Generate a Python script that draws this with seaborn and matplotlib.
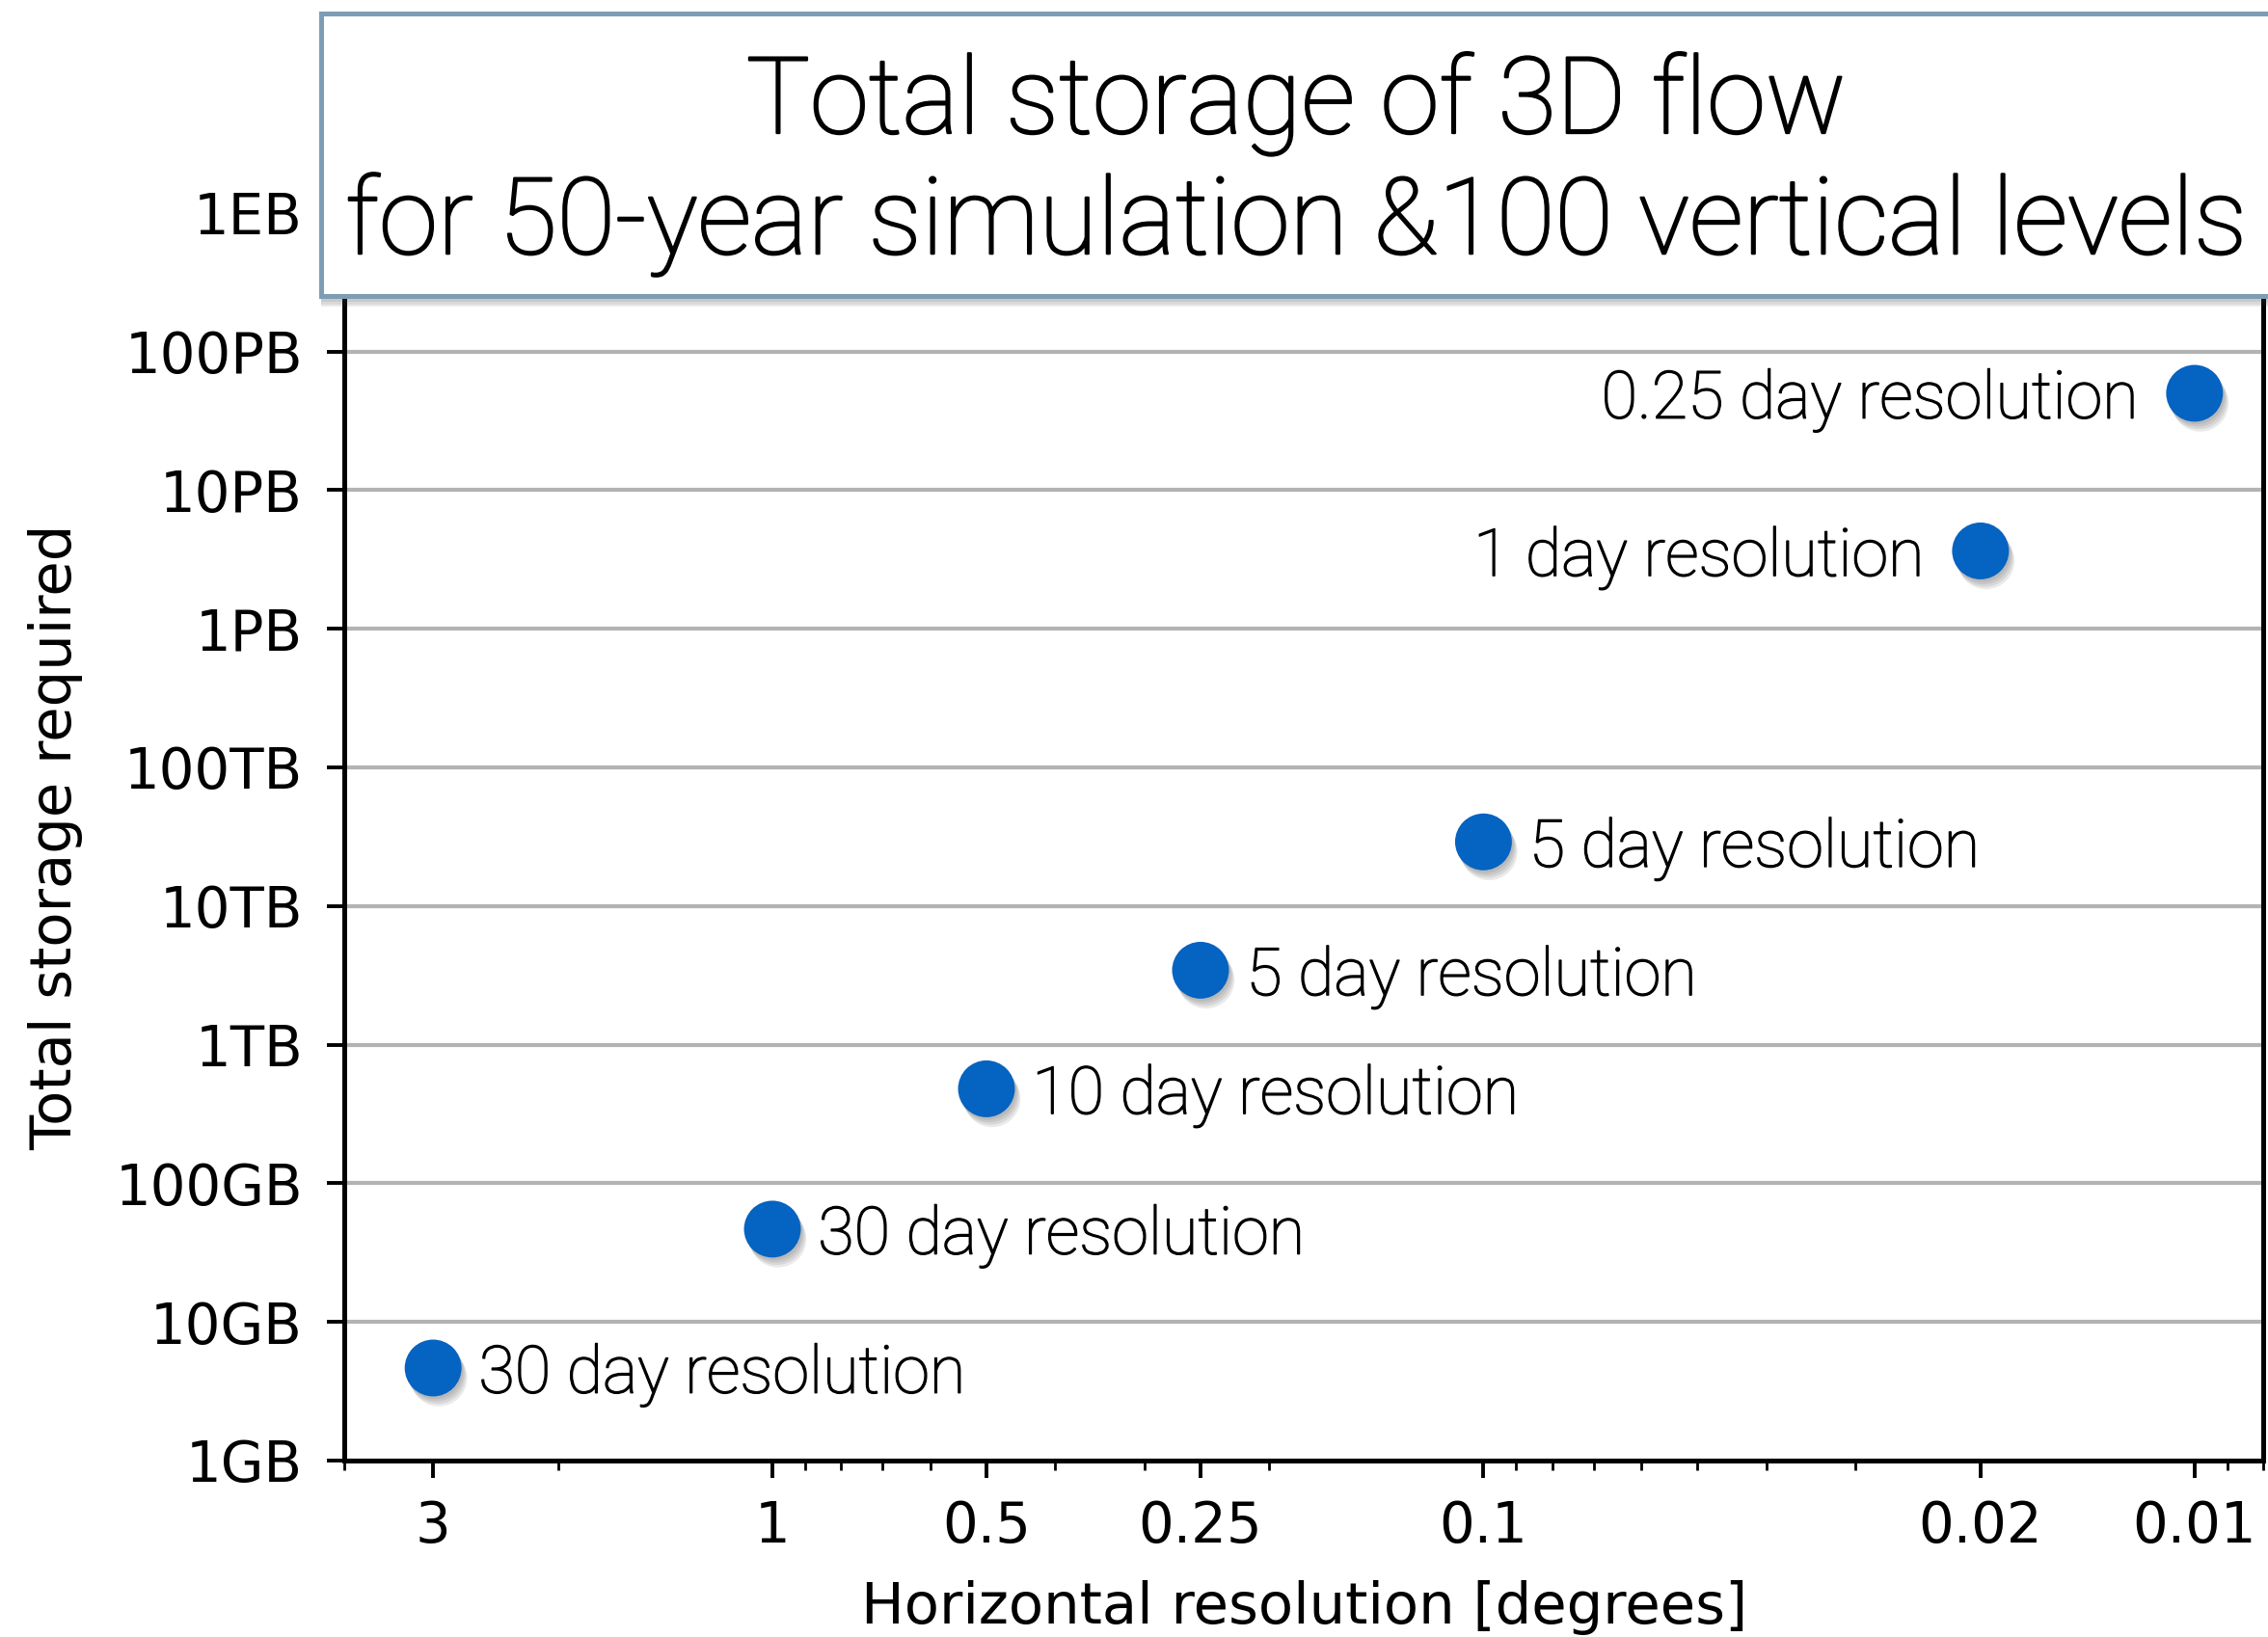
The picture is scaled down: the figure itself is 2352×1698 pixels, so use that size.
import numpy as np
import pandas as pd
import matplotlib
matplotlib.use("Agg")
import matplotlib.pyplot as plt
import matplotlib.ticker as mticker
import matplotlib.patheffects as pe
from matplotlib.patches import Rectangle
import seaborn as sns

# ---------------- data ----------------
resolution_deg = [3, 1, 0.5, 0.25, 0.1, 0.02, 0.01]
storage_bytes = [4.65e9, 4.67e10, 4.8e11, 3.44e12, 2.9e13, 3.64e15, 4.99e16]
point_labels = ["30 day resolution", "30 day resolution", "10 day resolution",
                "5 day resolution", "5 day resolution", "1 day resolution",
                "0.25 day resolution"]
label_side = ["right", "right", "right", "right", "right", "left", "left"]

x_ticks = [3, 1, 0.5, 0.25, 0.1, 0.02, 0.01]
x_tick_labels = ["3", "1", "0.5", "0.25", "0.1", "0.02", "0.01"]
y_ticks = [1e9, 1e10, 1e11, 1e12, 1e13, 1e14, 1e15, 1e16, 1e17, 1e18]
y_tick_labels = ["1GB", "10GB", "100GB", "1TB", "10TB", "100TB", "1PB",
                 "10PB", "100PB", "1EB"]
title_lines = ["Total storage of 3D flow",
               "for 50-year simulation &100 vertical levels"]
x_label = "Horizontal resolution [degrees]"
y_label = "Total storage required"

df = pd.DataFrame({"resolution": resolution_deg, "storage": storage_bytes,
                   "label": point_labels, "side": label_side})

# ---------------- style ----------------
sns.set_style("ticks")
plt.rcParams["font.family"] = ["DejaVu Sans"]
plt.rcParams["text.color"] = "black"
plt.rcParams["axes.labelcolor"] = "black"
LABEL_FONT = ["Roboto", "DejaVu Sans"]
POINT_COLOR = "#0563C1"

DPI = 200
fig = plt.figure(figsize=(2352 / DPI, 1698 / DPI), dpi=DPI)
ax = fig.add_axes([0.1518, 0.1078, 0.998 - 0.1518, 0.870 - 0.1078])

sns.scatterplot(data=df, x="resolution", y="storage", ax=ax, s=450,
                color=POINT_COLOR, linewidth=0, zorder=4, legend=False)
coll = ax.collections[-1]
soft_shadow = [pe.SimplePatchShadow(offset=(0.6 + 0.5 * k, -1.0 - 0.9 * k),
                                    shadow_rgbFace="#555555", alpha=0.12)
               for k in range(4)]
coll.set_path_effects(soft_shadow + [pe.Normal()])

ax.set_xscale("log")
ax.set_yscale("log")
ax.set_xlim(4.0, 0.008)
ax.set_ylim(1e9, 1e18)

ax.xaxis.set_major_locator(mticker.FixedLocator(x_ticks))
ax.xaxis.set_major_formatter(mticker.FixedFormatter(x_tick_labels))
ax.xaxis.set_minor_locator(mticker.LogLocator(base=10, subs=np.arange(2, 10), numticks=20))
ax.xaxis.set_minor_formatter(mticker.NullFormatter())
ax.yaxis.set_major_locator(mticker.FixedLocator(y_ticks))
ax.yaxis.set_major_formatter(mticker.FixedFormatter(y_tick_labels))
ax.yaxis.set_minor_locator(mticker.NullLocator())

ax.tick_params(axis="both", which="major", direction="out", length=6.5, width=1.4,
               labelsize=20.8, color="black", labelcolor="black")
ax.tick_params(axis="x", which="major", pad=8)
ax.tick_params(axis="y", which="major", pad=9)
ax.tick_params(axis="x", which="minor", direction="out", length=3.6, width=1.0, color="black")

for sp in ax.spines.values():
    sp.set_linewidth(1.8)
    sp.set_color("black")
    sp.set_visible(True)

ax.yaxis.grid(True, color="#b3b3b3", linewidth=1.5, zorder=0)
ax.xaxis.grid(False)
ax.set_axisbelow(True)

xl = ax.set_xlabel(x_label, fontsize=17.5, labelpad=9.5, color="black")
yl = ax.set_ylabel(y_label, fontsize=17.5, labelpad=12, color="black")

renderer = fig.canvas.get_renderer()


def fit(text_obj, target_px):
    fs = text_obj.get_fontsize()
    for _ in range(3):
        w = text_obj.get_window_extent(renderer=renderer).width
        fs = fs * target_px / w
        text_obj.set_fontsize(fs)
    return fs


def thicken(fs):
    # light face with a hairline stroke -> weight between light and regular
    return [pe.withStroke(linewidth=0.02 * fs, foreground="black")]


# axis label size fitted to reference width
fs_axis = fit(xl, 921)
yl.set_fontsize(fs_axis)

# point annotations
probe = fig.text(0, 0, point_labels[0], fontsize=24, family=LABEL_FONT, weight="light")
fs_lab = fit(probe, 504)
probe.remove()

for _, r in df.iterrows():
    off = 17 if r["side"] == "right" else -21
    ax.annotate(r["label"], xy=(r["resolution"], r["storage"]), xytext=(off, 0),
                textcoords="offset points", ha="left" if r["side"] == "right" else "right",
                va="center_baseline", fontsize=fs_lab, family=LABEL_FONT,
                weight="light", color="black", zorder=5,
                path_effects=thicken(fs_lab))

# title box
box = Rectangle((0.1416, 0.819), 0.875, 0.173, transform=fig.transFigure,
                facecolor="white", edgecolor="#7d9db6", linewidth=1.8, zorder=10)
box_shadow = [pe.SimplePatchShadow(offset=(0, -1.0 - 1.0 * k), shadow_rgbFace="#444444", alpha=0.10)
              for k in range(4)]
box.set_path_effects(box_shadow + [pe.Normal()])
fig.add_artist(box)

t2 = fig.text(0.5714, 0.845, title_lines[1], ha="center", va="baseline",
              fontsize=38, family=LABEL_FONT, weight="light", zorder=11)
fs_title = fit(t2, 1972)
t2.set_path_effects(thicken(fs_title))
t1 = fig.text(0.5714, 0.9187, title_lines[0], ha="center", va="baseline",
              fontsize=fs_title, family=LABEL_FONT, weight="light", zorder=11,
              path_effects=thicken(fs_title))

fig.savefig("out.png", dpi=DPI, facecolor="white")
